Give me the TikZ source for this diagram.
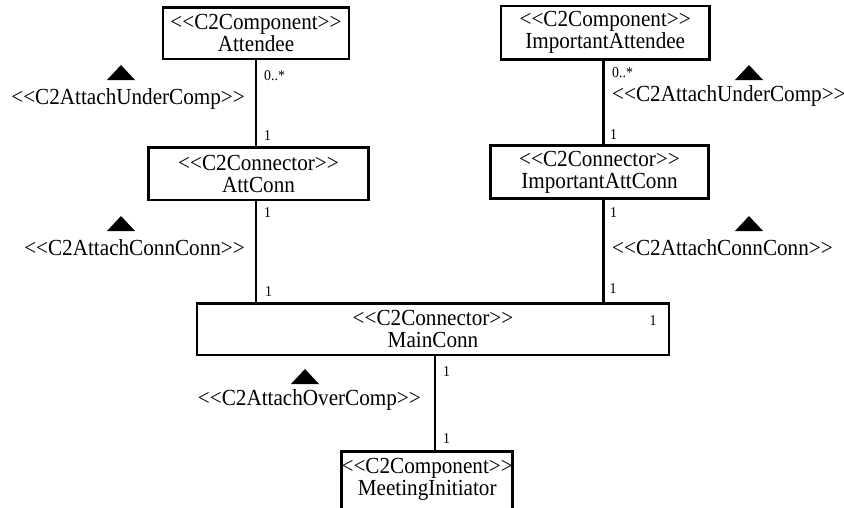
\documentclass[tikz,border=0pt]{standalone}
\usepackage{fontspec}
\setmainfont{Liberation Serif}[FakeStretch=0.92]
\newcommand{\boxfont}{\fontsize{23}{22}\selectfont}
\newcommand{\multfont}{\fontsize{15}{15}\selectfont}
% stereotype guillemets written as two angle brackets each
\newcommand{\stype}[1]{<{}<#1>{}>}
\begin{document}
\begin{tikzpicture}[x=1pt,y=-1pt,
  umlbox/.style={draw, line width=2.6pt, inner sep=0pt, align=center, font=\boxfont},
  conn/.style={line width=2.6pt},
  mult/.style={font=\multfont, inner sep=0pt, anchor=west},
  stereo/.style={font=\boxfont, inner sep=0pt},
  tri/.pic={\fill (-14,15) -- (0,0) -- (14,15) -- cycle;}]
\clip (0,0) rectangle (844,507);

% components and connectors
\node[umlbox, minimum width=186pt, minimum height=51.3pt] (att) at (256,33.3)
  {\stype{C2Component}\\Attendee};
\node[umlbox, minimum width=208.3pt, minimum height=53.3pt] (iatt) at (605.2,32.7)
  {\stype{C2Component}\\ImportantAttendee};
\node[umlbox, minimum width=219.6pt, minimum height=52.3pt] (attc) at (258.5,173.9)
  {\stype{C2Connector}\\AttConn};
\node[umlbox, minimum width=218.4pt, minimum height=52.6pt] (iattc) at (599.5,172)
  {\stype{C2Connector}\\ImportantAttConn};
\node[umlbox, minimum width=472pt, minimum height=51.7pt] (main) at (433,329.2)
  {\stype{C2Connector}\\MainConn};
\node[umlbox, minimum width=171pt, minimum height=64pt, text depth=13pt, anchor=north] (mi) at (427.2,450)
  {\stype{C2Component}\\MeetingInitiator};

% vertical positions of the right and bottom links
\coordinate (rl) at (603.7,0);
\coordinate (bl) at (435,0);

% links
\draw[conn] (att.south) -- (att.south |- attc.north);
\draw[conn] (attc.south -| att.south) -- (att.south |- main.north);
\draw[conn] (iatt.south -| rl) -- (iattc.north -| rl);
\draw[conn] (iattc.south -| rl) -- (main.north -| rl);
\draw[conn] (main.south -| bl) -- (mi.north -| bl);

% multiplicities
\node[mult] (m1) at (264,76) {0..*};
\node[mult] (m2) at (264,136) {1};
\node[mult] (m3) at (264,213) {1};
\node[mult] (m4) at (265,291.7) {1};
\node[mult] (m5) at (612,72.7) {0..*};
\node[mult] (m6) at (610,135) {1};
\node[mult] (m7) at (610,213) {1};
\node[mult] (m8) at (609.5,288.3) {1};
\node[mult] (m9) at (649.4,321) {1};
\node[mult] (m10) at (443,371.7) {1};
\node[mult] (m11) at (443,439) {1};

% stereotype labels with direction markers
\pic at (121,65) {tri};
\node[stereo, anchor=base east] (s1) at (245,104) {\stype{C2AttachUnderComp}};
\pic at (121,216) {tri};
\node[stereo, anchor=base east] (s2) at (245,255) {\stype{C2AttachConnConn}};
\pic at (749,65) {tri};
\node[stereo, anchor=base west] (s3) at (612,101) {\stype{C2AttachUnderComp}};
\pic at (749,216) {tri};
\node[stereo, anchor=base west] (s4) at (612,255) {\stype{C2AttachConnConn}};
\pic at (305,369) {tri};
\node[stereo, anchor=base east] (s5) at (421,405) {\stype{C2AttachOverComp}};
\end{tikzpicture}
\end{document}
